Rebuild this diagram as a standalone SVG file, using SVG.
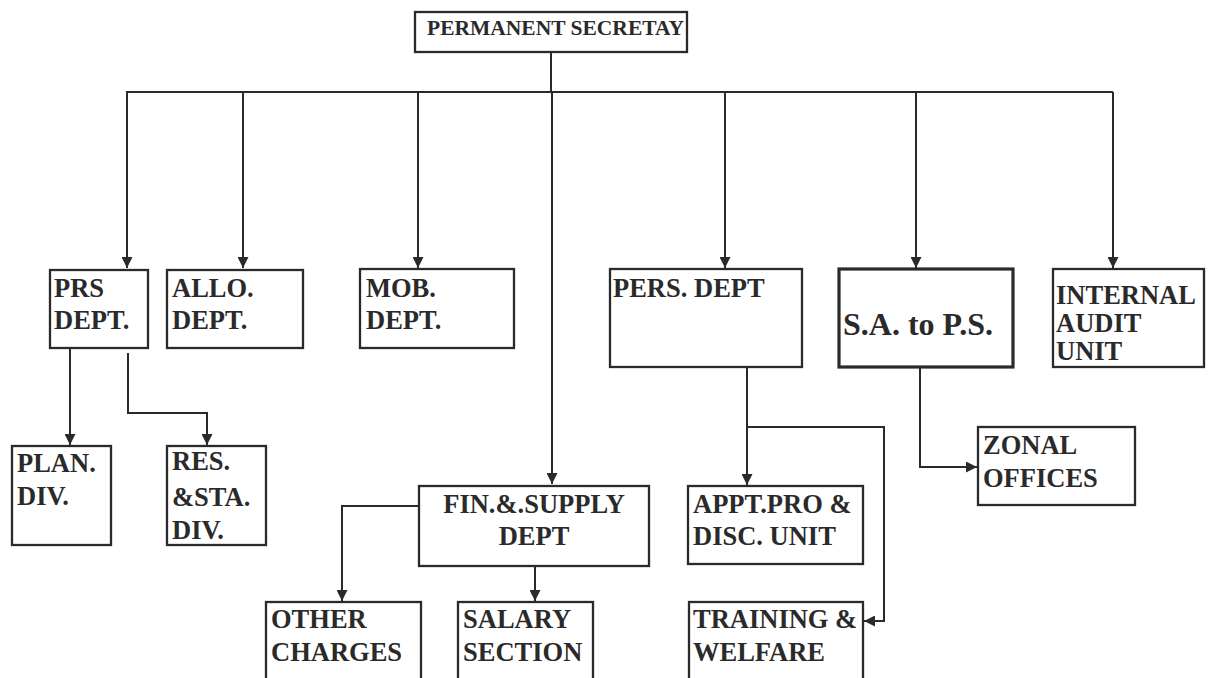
<svg xmlns="http://www.w3.org/2000/svg" width="1210" height="678" viewBox="0 0 1210 678">
<defs>
<marker id="ah" viewBox="0 0 10 10" refX="10" refY="5" markerWidth="11" markerHeight="11" markerUnits="userSpaceOnUse" orient="auto">
<path d="M0,0 L10,5 L0,10 Z" fill="#2a2a2a"/>
</marker>
<style>
.box{fill:#fff;stroke:#2a2a2a;stroke-width:2.3}
.thick{stroke-width:3.2}
.ln{fill:none;stroke:#2a2a2a;stroke-width:2}
text{font-family:'Liberation Serif',serif;font-weight:bold;font-size:26.5px;fill:#2a2a2a}
</style>
</defs>
<rect width="1210" height="678" fill="#fff"/>
<g id="connectors">
<path class="ln" d="M551,52 V92"/>
<path class="ln" d="M126,92 H1113"/>
<path class="ln" d="M127,92 V268" marker-end="url(#ah)"/>
<path class="ln" d="M243,92 V268" marker-end="url(#ah)"/>
<path class="ln" d="M418,92 V268" marker-end="url(#ah)"/>
<path class="ln" d="M552,92 V484" marker-end="url(#ah)"/>
<path class="ln" d="M725,92 V268" marker-end="url(#ah)"/>
<path class="ln" d="M916,92 V268" marker-end="url(#ah)"/>
<path class="ln" d="M1113,92 V268" marker-end="url(#ah)"/>
<path class="ln" d="M70,348 V445" marker-end="url(#ah)"/>
<path class="ln" d="M128,353 V413 H207 V445" marker-end="url(#ah)"/>
<path class="ln" d="M419,506 H342 V601" marker-end="url(#ah)"/>
<path class="ln" d="M535,566 V601" marker-end="url(#ah)"/>
<path class="ln" d="M747,367 V485" marker-end="url(#ah)"/>
<path class="ln" d="M747,427 H884 V621 H864" marker-end="url(#ah)"/>
<path class="ln" d="M920,367 V467 H977" marker-end="url(#ah)"/>
</g>
<g id="ps">
<rect class="box" x="415" y="12" width="272" height="40"/>
<text x="427" y="35" style="font-size:21.5px">PERMANENT SECRETAY</text>
</g>
<g id="prs">
<rect class="box" x="50" y="270" width="98" height="78"/>
<text x="54" y="297">PRS</text>
<text x="54" y="329">DEPT.</text>
</g>
<g id="allo">
<rect class="box" x="167" y="270" width="136" height="78"/>
<text x="172" y="297">ALLO.</text>
<text x="172" y="329">DEPT.</text>
</g>
<g id="mob">
<rect class="box" x="360" y="269" width="154" height="79"/>
<text x="366" y="297">MOB.</text>
<text x="366" y="329">DEPT.</text>
</g>
<g id="pers">
<rect class="box" x="610" y="269" width="192" height="98"/>
<text x="613" y="297">PERS. DEPT</text>
</g>
<g id="sa">
<rect class="box thick" x="839" y="269" width="174" height="98"/>
<text x="843" y="335" style="font-size:32px">S.A. to P.S.</text>
</g>
<g id="audit">
<rect class="box" x="1053" y="269" width="151" height="98"/>
<text x="1056" y="304">INTERNAL</text>
<text x="1056" y="332">AUDIT</text>
<text x="1056" y="360">UNIT</text>
</g>
<g id="plan">
<rect class="box" x="12" y="446" width="99" height="99"/>
<text x="17" y="472">PLAN.</text>
<text x="17" y="505">DIV.</text>
</g>
<g id="res">
<rect class="box" x="167" y="446" width="99" height="99"/>
<text x="172" y="470">RES.</text>
<text x="172" y="506">&amp;STA.</text>
<text x="172" y="539">DIV.</text>
</g>
<g id="fin">
<rect class="box" x="419" y="486" width="230" height="80"/>
<text x="534" y="513" text-anchor="middle">FIN.&amp;.SUPPLY</text>
<text x="534" y="545" text-anchor="middle">DEPT</text>
</g>
<g id="other">
<rect class="box" x="266" y="602" width="155" height="90"/>
<text x="271" y="628">OTHER</text>
<text x="271" y="661">CHARGES</text>
</g>
<g id="salary">
<rect class="box" x="458" y="602" width="135" height="90"/>
<text x="463" y="628">SALARY</text>
<text x="463" y="661">SECTION</text>
</g>
<g id="appt">
<rect class="box" x="688" y="486" width="175" height="78"/>
<text x="693" y="513">APPT.PRO &amp;</text>
<text x="693" y="545">DISC. UNIT</text>
</g>
<g id="training">
<rect class="box" x="689" y="602" width="174" height="90"/>
<text x="693" y="628">TRAINING &amp;</text>
<text x="693" y="661">WELFARE</text>
</g>
<g id="zonal">
<rect class="box" x="978" y="427" width="157" height="78"/>
<text x="983" y="454">ZONAL</text>
<text x="983" y="487">OFFICES</text>
</g>
</svg>
